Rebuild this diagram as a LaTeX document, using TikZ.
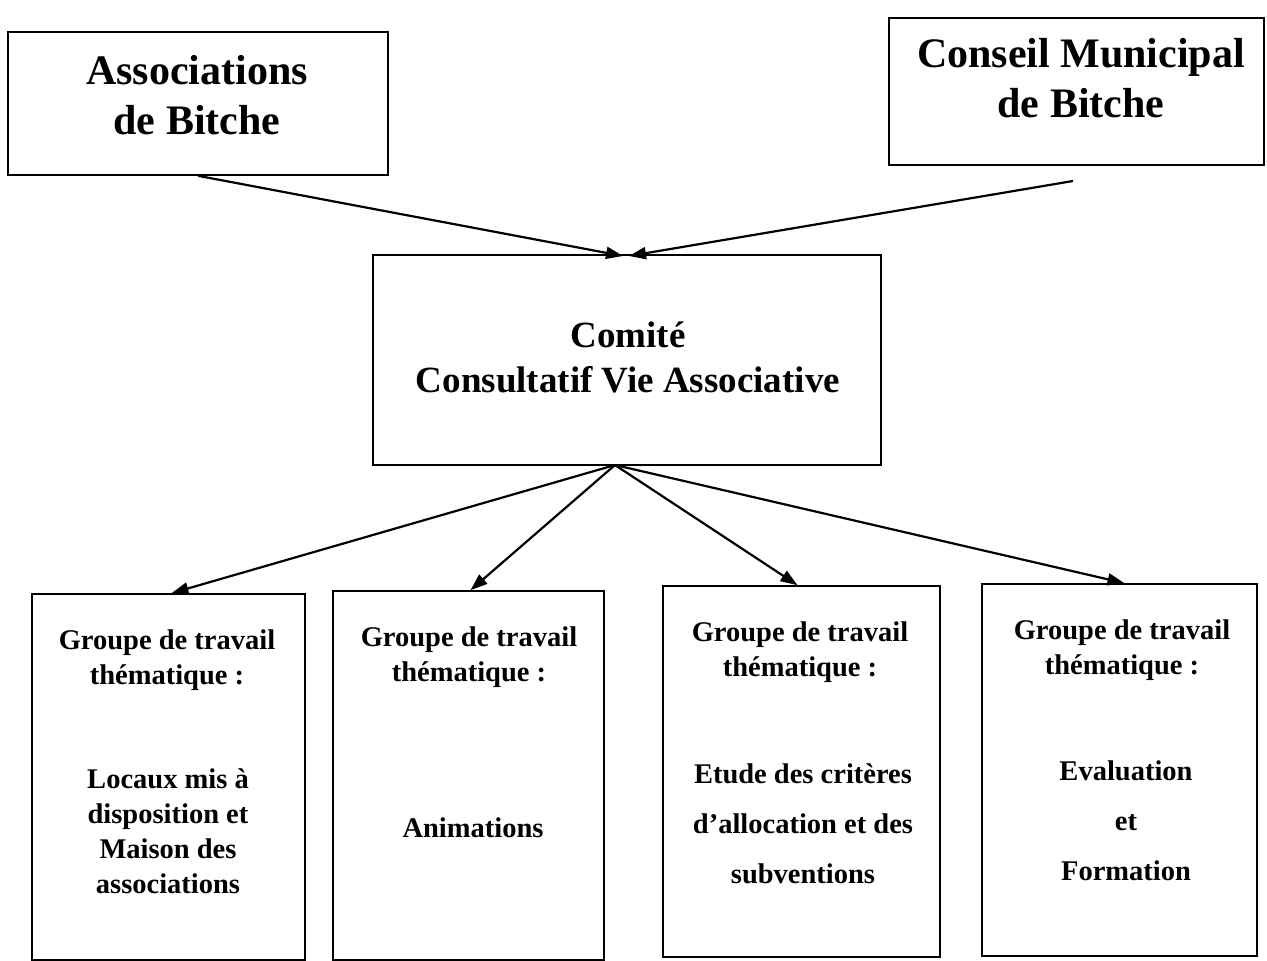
\documentclass[tikz,border=0pt]{standalone}
\usepackage{fontspec}
\setmainfont{Liberation Serif}
\usetikzlibrary{arrows.meta}
\tikzset{
  box/.style={draw=black, line width=1.6pt, minimum width=#1, inner sep=0pt},
  tbig/.style={align=center, font=\bfseries\fontsize{42}{50}\selectfont, inner sep=0pt},
  tmid/.style={align=center, font=\bfseries\fontsize{37}{45}\selectfont, inner sep=0pt},
  tsmall/.style={align=center, font=\bfseries\fontsize{28.5}{35}\selectfont, inner sep=0pt},
  tsmallw/.style={align=center, font=\bfseries\fontsize{28.5}{50}\selectfont, inner sep=0pt},
  link/.style={draw=black, line width=2.2pt, -{Triangle[length=17pt,width=12pt]}}
}
\begin{document}
\begin{tikzpicture}[x=1pt,y=-1pt]
\useasboundingbox (0,0) rectangle (1267,961);
\fill[white] (0,0) rectangle (1267,961);
% boxes
\node[box=380pt, minimum height=143pt] (A) at (198,103.5) {};
\node[box=375pt, minimum height=147pt] (B) at (1076.5,91.5) {};
\node[box=508pt, minimum height=210pt] (C) at (627,360) {};
\node[box=273pt, minimum height=366pt] (G1) at (168.5,777) {};
\node[box=271pt, minimum height=369pt] (G2) at (468.5,775.5) {};
\node[box=277pt, minimum height=371pt] (G3) at (801.5,771.5) {};
\node[box=275pt, minimum height=372pt] (G4) at (1119.5,770) {};
% texts
\node[tbig] (Atxt) at (197,95) {Associations\\de Bitche};
\node[tbig] (Btxt) at (1081,78) {Conseil Municipal\\de Bitche};
\node[tmid] (Ctxt) at (628,357) {Comité\\Consultatif Vie Associative};
\node[tsmall] (G1t) at (167,660) {Groupe de travail\\thématique :};
\node[tsmall] (G1b) at (168,831) {Locaux mis à\\disposition et\\Maison des\\associations};
\node[tsmall] (G2t) at (469,657) {Groupe de travail\\thématique :};
\node[tsmall] (G2b) at (473,828) {Animations};
\node[tsmall] (G3t) at (800,652) {Groupe de travail\\thématique :};
\node[tsmallw] (G3b) at (803,824) {Etude des critères\\d’allocation et des\\subventions};
\node[tsmall] (G4t) at (1122,650) {Groupe de travail\\thématique :};
\node[tsmallw] (G4b) at (1126,821) {Evaluation\\et\\Formation};
% connectors
\coordinate (Bout) at (1073,181);
\coordinate (Cin1) at (623,256);
\coordinate (Cin2) at (629,256);
\coordinate (Cout) at (615,465);
\draw[link] (A.south) -- (Cin1);
\draw[link] (Bout) -- (Cin2);
\draw[link] (Cout) -- ([xshift=3pt]G1.north);
\draw[link] (Cout) -- ([xshift=2pt]G2.north);
\draw[link] (Cout) -- ([xshift=-4pt]G3.north);
\draw[link] (Cout) -- ([xshift=5pt]G4.north);
\end{tikzpicture}
\end{document}
